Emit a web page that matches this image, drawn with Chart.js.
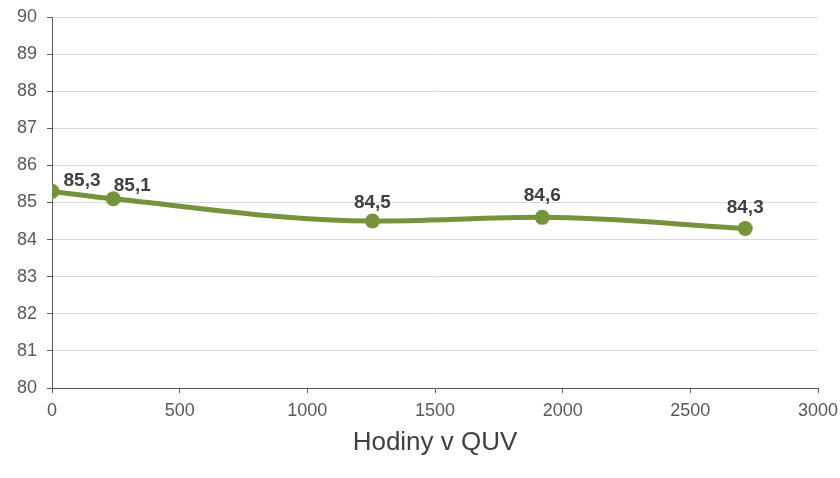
<!DOCTYPE html>
<html>
<head>
<meta charset="utf-8">
<script src="https://cdn.jsdelivr.net/npm/chart.js@4"></script>
<style>
  html, body { margin: 0; padding: 0; background: #fff; }
  #wrap { width: 840px; height: 478px; }
</style>
</head>
<body>
<div id="wrap"><canvas id="quvChart" width="840" height="478"></canvas></div>
<script>
// hodiny v QUV a namerene hodnoty
const hours = [0, 240, 1255, 1920, 2715];
const values = [85.3, 85.1, 84.5, 84.6, 84.3];
const xTicks = [0, 500, 1000, 1500, 2000, 2500, 3000];
const yTicks = [80, 81, 82, 83, 84, 85, 86, 87, 88, 89, 90];

const lineColor = '#76933c';
const axisColor = '#595959';
const textColor = '#595959';
const fontFam = '"Liberation Sans", Arial, sans-serif';

// posun popisku vuci bodu (dx, dy)
const labelShift = [[30, -11], [19, -13], [0, -18], [0, -22], [0, -21]];

const pointLabels = {
    id: 'pointLabels',
    afterDatasetsDraw(chart) {
        const ctx = chart.ctx;
        const meta = chart.getDatasetMeta(0);
        ctx.save();
        ctx.font = 'bold 19px ' + fontFam;
        ctx.fillStyle = '#404040';
        ctx.textAlign = 'center';
        ctx.textBaseline = 'middle';
        meta.data.forEach((pt, i) => {
            const txt = values[i].toFixed(1).replace('.', ',');
            ctx.fillText(txt, pt.x + labelShift[i][0], pt.y + labelShift[i][1]);
        });
        ctx.restore();
    }
};

const ctx = document.getElementById('quvChart').getContext('2d');
new Chart(ctx, {
    type: 'line',
    data: {
        datasets: [{
            data: hours.map((h, i) => ({ x: h, y: values[i] })),
            borderColor: lineColor,
            backgroundColor: lineColor,
            borderWidth: 5,
            pointRadius: 7.5,
            pointBorderWidth: 0,
            pointBackgroundColor: lineColor,
            tension: 0.4,
            cubicInterpolationMode: 'monotone'
        }]
    },
    options: {
        responsive: false,
        animation: false,
        devicePixelRatio: 1,
        layout: { padding: { top: 17, right: 22, left: 0, bottom: 0 } },
        plugins: {
            legend: { display: false },
            tooltip: { enabled: false }
        },
        scales: {
            x: {
                type: 'linear',
                min: 0,
                max: 3000,
                afterBuildTicks: s => { s.ticks = xTicks.map(v => ({ value: v })); },
                afterFit: s => { s.height = 90; s.paddingLeft = 0; s.paddingRight = 0; },
                grid: { drawOnChartArea: false, tickLength: 5, tickColor: axisColor },
                border: { color: axisColor, width: 1 },
                ticks: {
                    color: textColor,
                    padding: 7,
                    maxRotation: 0,
                    font: { family: fontFam, size: 18 },
                    callback: v => String(v)
                },
                title: {
                    display: true,
                    text: 'Hodiny v QUV',
                    color: '#404040',
                    font: { family: fontFam, size: 26 },
                    padding: { top: 0, bottom: 20 }
                }
            },
            y: {
                min: 80,
                max: 90,
                afterBuildTicks: s => { s.ticks = yTicks.map(v => ({ value: v })); },
                afterFit: s => { s.width = 52; s.paddingTop = 0; s.paddingBottom = 0; },
                grid: { color: '#d9d9d9', lineWidth: 1, tickLength: 5, tickColor: axisColor },
                border: { color: axisColor, width: 1 },
                ticks: {
                    color: textColor,
                    padding: 10,
                    font: { family: fontFam, size: 18 }
                }
            }
        }
    },
    plugins: [pointLabels]
});
</script>
</body>
</html>
